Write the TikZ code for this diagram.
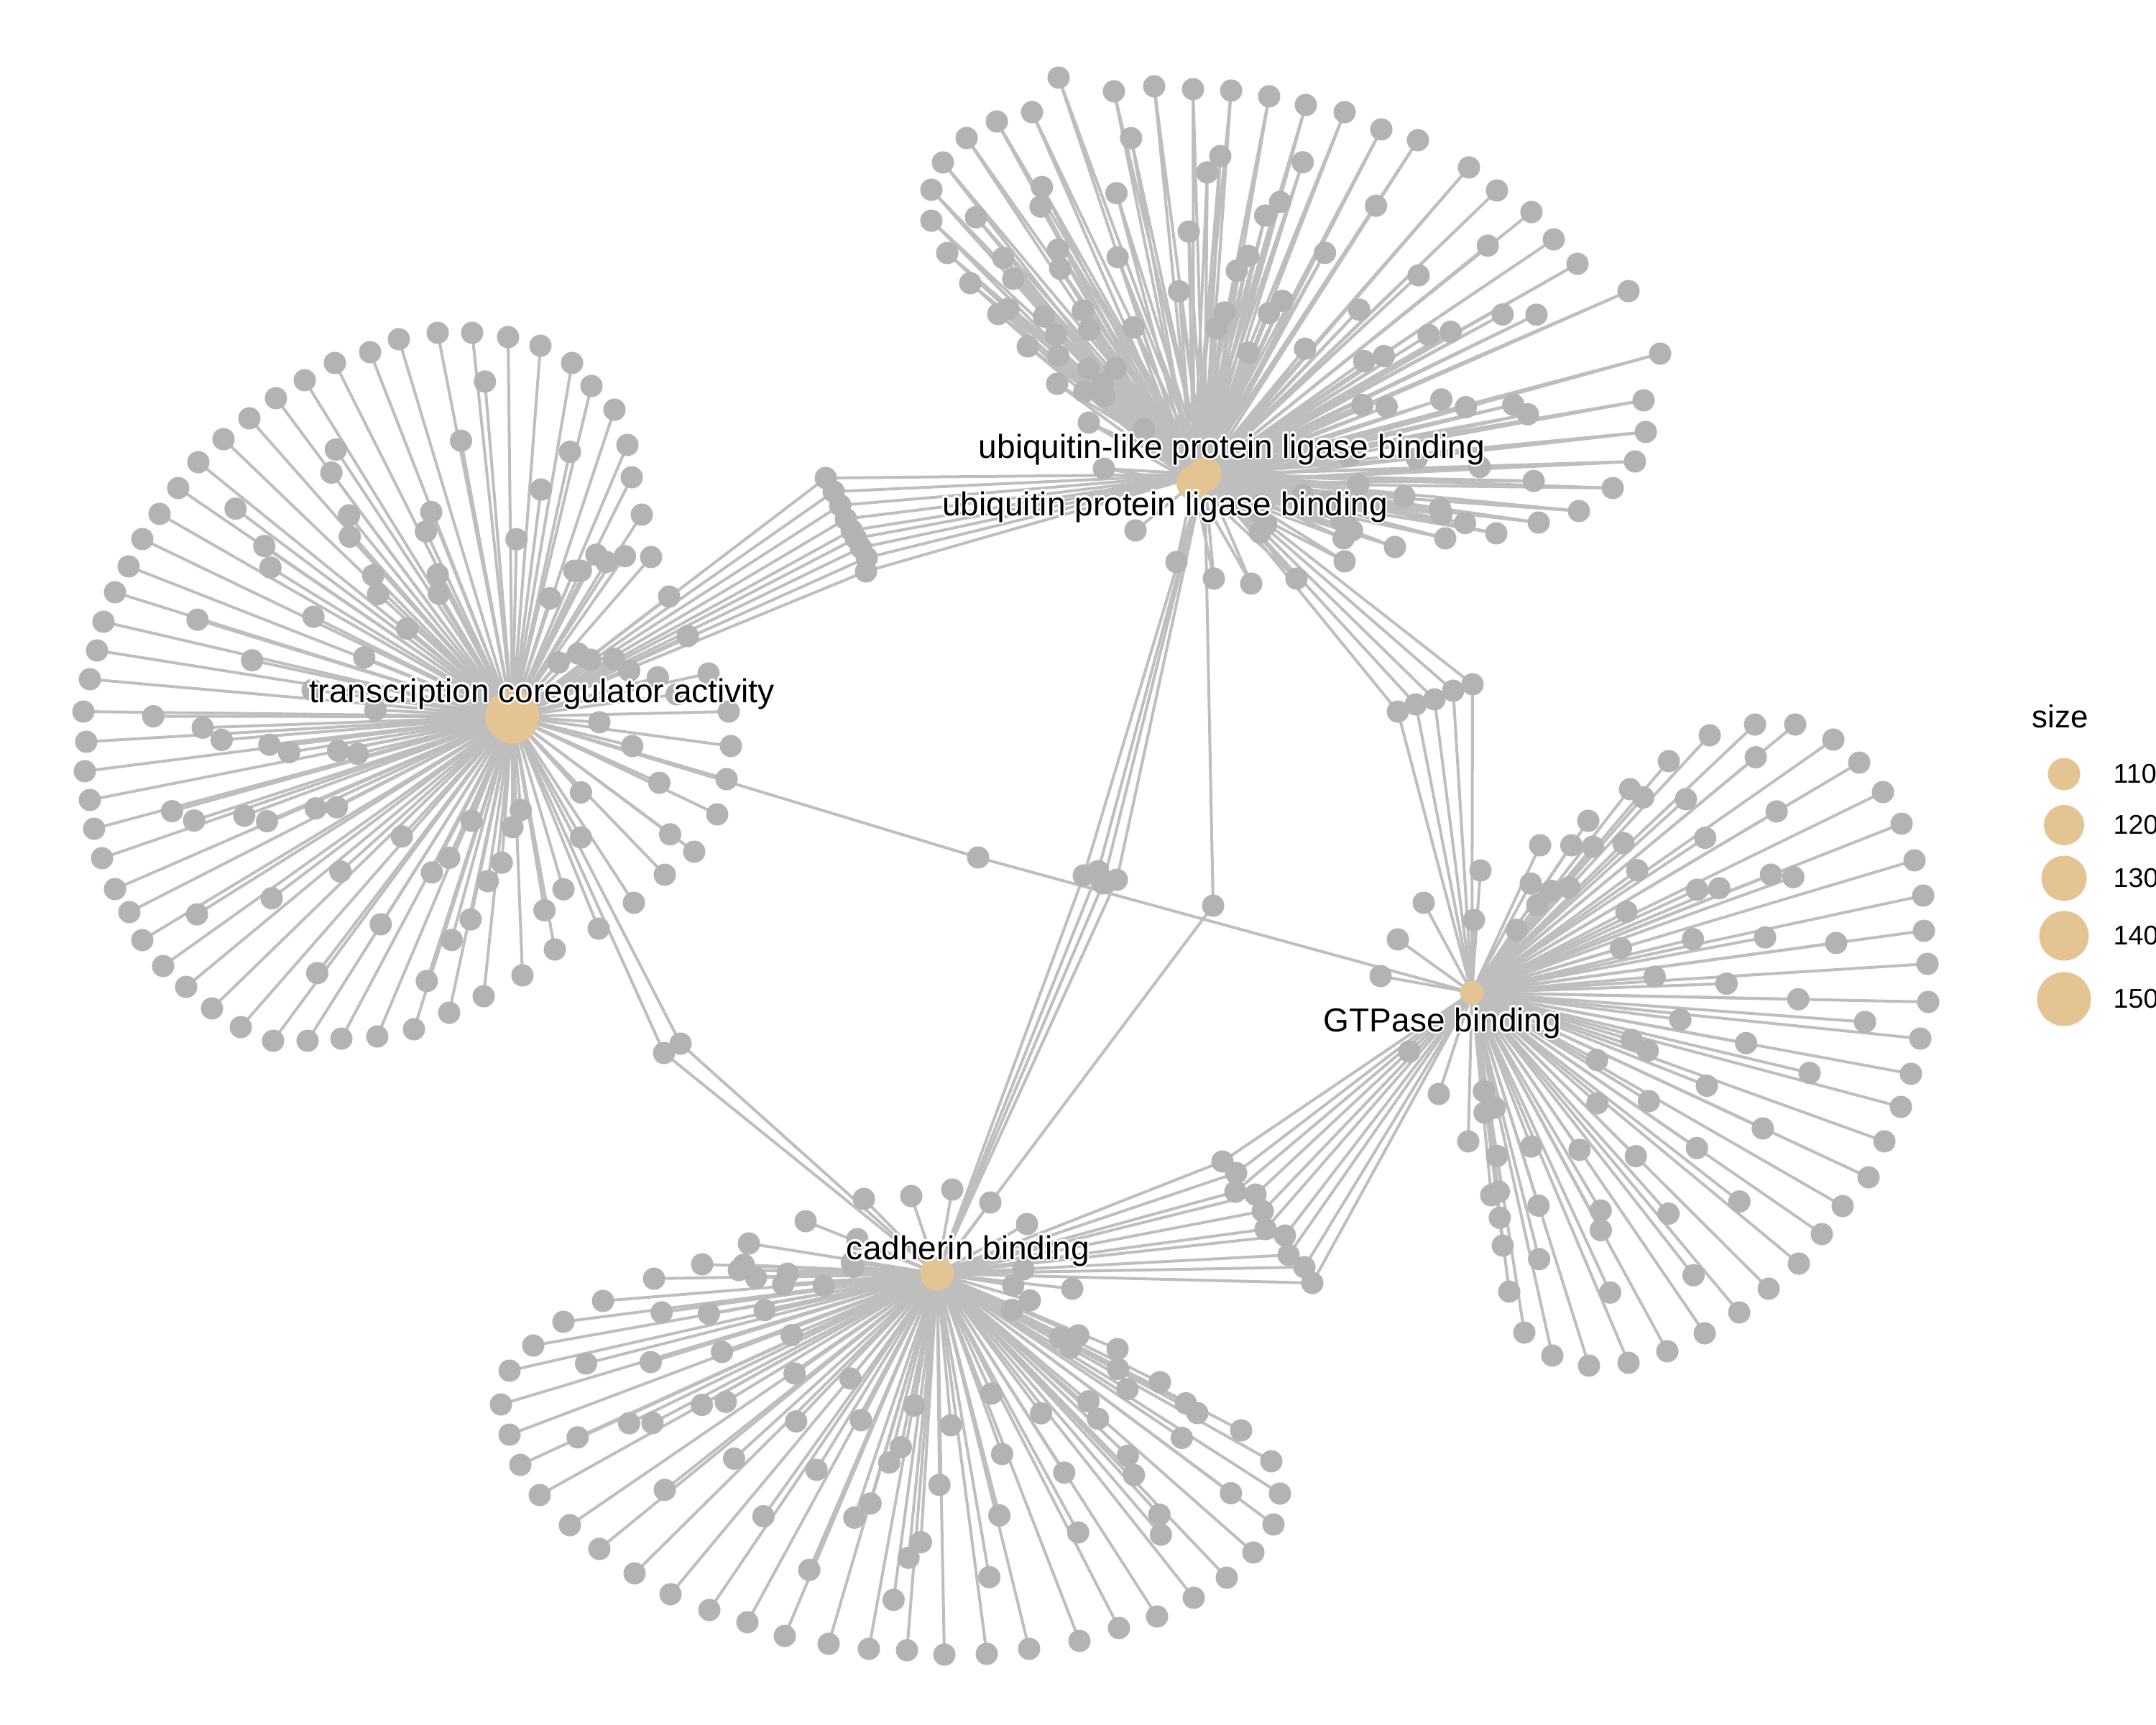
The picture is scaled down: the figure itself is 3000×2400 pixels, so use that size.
\documentclass[tikz,border=0pt]{standalone}
\usepackage{fontspec}
\setmainfont{Liberation Sans}
\usepackage{contour}
\contourlength{0.7pt}
\contournumber{24}
\usetikzlibrary{calc}
\definecolor{genec}{HTML}{B3B3B3}
\definecolor{edgec}{HTML}{BEBEBE}
\definecolor{hubc}{HTML}{E5C494}
\pgfdeclarelayer{edgelayer}
\pgfsetlayers{edgelayer,main}
\newcommand{\mkinner}[6]{%
  \foreach \idx in {1,...,#5}{%
    \pgfmathsetmacro{\myU}{frac(\idx*0.7548777+#6)}%
    \pgfmathsetmacro{\myS}{#3+\myU*(#4-#3)}%
    \pgfmathtruncatemacro{\myK}{floor(\myS)}%
    \pgfmathtruncatemacro{\myKn}{\myK+1}%
    \pgfmathsetmacro{\myT}{\myS-\myK}%
    \pgfmathsetmacro{\myF}{0.32+0.56*frac(\idx*0.5698403+#6*1.7)}%
    \coordinate (tmp) at ($(#1O\myK)!\myT!(#1O\myKn)$);%
    \node[gene] (#1I\idx) at ($(#2)!\myF!(tmp)$) {};%
  }%
}
\begin{document}
\begin{tikzpicture}[x=0.01cm,y=-0.01cm,
  gene/.style={circle,fill=genec,inner sep=0pt,minimum size=0.31cm},
  hub/.style={circle,fill=hubc,inner sep=0pt},
  edge/.style={draw=edgec,line width=0.04cm},
  lbl/.style={font=\fontsize{13.1}{15}\selectfont,anchor=base,inner sep=0pt},
  legt/.style={font=\fontsize{10.7}{12}\selectfont,anchor=west,inner sep=0pt}]
\useasboundingbox (0,0) rectangle (3000,2400);
% hub coordinates
\coordinate (tc) at (713,997);
\coordinate (ub) at (1676,660);
\coordinate (ub2) at (1661,672);
\coordinate (gt) at (2048,1381);
\coordinate (cd) at (1304,1772);
% ---- transcription coregulator activity ring
\foreach \x/\y [count=\i] in {609/463,657/463,707/469,752/481,796/505,823/537,855/570,873/619,879/664,893/716,906/775,931/830,957/885,986/937,1014/990,1017/1038,1011/1084,998/1133,966/1185,925/1217,882/1256,833/1292,772/1321,727/1357,673/1386,625/1409,576/1432,525/1442,475/1445,428/1448,380/1448,335/1429,295/1403,259/1373,227/1344,198/1308,180/1269,160/1237,142/1194,131/1153,125/1113,118/1073,120/1032,116/990,125/945,135/905,144/865,160/824,179/788,198/750,222/715,248/679,276/643,311/611,347/582,384/554,424/529,466/505,515/490,555/472}
  \node[gene] (tcO\i) at (\x,\y) {};
\mkinner{tc}{tc}{1}{60}{75}{0.11}
% ---- ubiquitin ring
\foreach \x/\y [count=\i] in {1515/588,1471/534,1430/482,1389/437,1350/394,1318/352,1296/307,1296/264,1312/226,1345/192,1387/169,1436/156,1473/108,1550/127,1606/120,1660/124,1713/126,1766/134,1817/146,1871/156,1922/180,1973/195,2044/233,2083/265,2131/295,2162/333,2195/367,2266/405,2310/492,2287/557,2290/601,2275/642,2244/679,2197/711,2141/727,2082/742,2011/749,1941/761,1871/781,1804/805,1741/812,1689/805,1637/782,1580/738,1536/652}
  \node[gene] (ubO\i) at (\x,\y) {};
\mkinner{ub}{ub}{2}{40}{75}{0.37}
% ---- GTPase ring
\foreach \x/\y [count=\i] in {2143/1176,2210/1142,2268/1098,2322/1059,2379/1023,2442/1008,2498/1008,2551/1029,2587/1061,2620/1102,2646/1146,2664/1197,2676/1246,2677/1295,2682/1341,2683/1394,2672/1445,2659/1494,2645/1540,2622/1588,2600/1638,2564/1678,2535/1717,2503/1758,2461/1793,2420/1826,2372/1855,2320/1880,2266/1896,2211/1900,2160/1886,2121/1854,2100/1797,2091/1733,2075/1663}
  \node[gene] (gtO\i) at (\x,\y) {};
\mkinner{gt}{gt}{1}{35}{55}{0.53}
\foreach \x/\y [count=\i] in {2060/1211,1981/1256,2051/1280,1945/1307,1921/1358,1961/1463,2002/1522,2043/1588}
  \node[gene] (gtX\i) at (\x,\y) {};
% ---- cadherin ring
\foreach \x/\y [count=\i] in {1492/1793,1555/1877,1614/1923,1666/1966,1727/1990,1769/2033,1781/2078,1772/2121,1744/2160,1707/2195,1661/2223,1610/2249,1557/2265,1502/2283,1432/2294,1373/2301,1314/2302,1262/2296,1209/2294,1153/2287,1092/2276,1040/2257,987/2240,933/2218,883/2189,834/2155,793/2122,751/2080,724/2038,709/1996,697/1954,709/1907,742/1872,784/1839,839/1810,910/1779,977/1759,1042/1730}
  \node[gene] (cdO\i) at (\x,\y) {};
\mkinner{cd}{cd}{1}{38}{62}{0.71}
\foreach \x/\y [count=\i] in {1121/1699,1202/1668,1268/1664,1325/1655,1378/1673,1429/1703,1424/1766,1193/1724,1096/1772}
  \node[gene] (cdX\i) at (\x,\y) {};
% ---- shared genes
\foreach \x/\y [count=\i] in {1149/665,1160/684,1169/703,1177/722,1185/738,1191/749,1198/762,1206/776,1205/795}
  \node[gene] (tu\i) at (\x,\y) {};
\node[gene] (tg1) at (1361,1193) {};
\foreach \x/\y [count=\i] in {947/1452,924/1465}
  \node[gene] (tcd\i) at (\x,\y) {};
\foreach \x/\y [count=\i] in {1508/1218,1528/1212,1535/1229,1554/1224,1688/1260}
  \node[gene] (uc\i) at (\x,\y) {};
\foreach \x/\y [count=\i] in {1945/990,1970/980,1996/973,2022/961,2049/952}
  \node[gene] (ug\i) at (\x,\y) {};
\foreach \x/\y [count=\i] in {1701/1616,1720/1632,1719/1658,1747/1662,1757/1685,1761/1710,1788/1719,1793/1746,1815/1763,1826/1785}
  \node[gene] (cg\i) at (\x,\y) {};
% ---- edges
\begin{pgfonlayer}{edgelayer}
\foreach \i in {1,...,60} \draw[edge] (tc) -- (tcO\i.center);
\foreach \i in {1,...,75} \draw[edge] (tc) -- (tcI\i.center);
\foreach \i in {1,...,45} \draw[edge] (ub) -- (ubO\i.center) -- (ub2);
\foreach \i in {1,...,75} \draw[edge] (ub) -- (ubI\i.center) -- (ub2);
\foreach \i in {1,...,35} \draw[edge] (gt) -- (gtO\i.center);
\foreach \i in {1,...,55} \draw[edge] (gt) -- (gtI\i.center);
\foreach \i in {1,...,8} \draw[edge] (gt) -- (gtX\i.center);
\foreach \i in {1,...,38} \draw[edge] (cd) -- (cdO\i.center);
\foreach \i in {1,...,62} \draw[edge] (cd) -- (cdI\i.center);
\foreach \i in {1,...,9} \draw[edge] (cd) -- (cdX\i.center);
\foreach \i in {1,...,9} \draw[edge] (tc) -- (tu\i.center) -- (ub);
\draw[edge] (tc) -- (tg1.center) -- (gt);
\foreach \i in {1,2} \draw[edge] (tc) -- (tcd\i.center) -- (cd);
\foreach \i in {1,...,5} \draw[edge] (ub) -- (uc\i.center) -- (cd);
\foreach \i in {1,...,5} \draw[edge] (ub) -- (ug\i.center) -- (gt);
\foreach \i in {1,...,10} \draw[edge] (cd) -- (cg\i.center) -- (gt);
\end{pgfonlayer}
% ---- hubs
\node[hub,minimum size=0.75cm] (tcH) at (tc) {};
\node[hub,minimum size=0.48cm] (ubA) at (ub) {};
\node[hub,minimum size=0.48cm] (ubB) at (ub2) {};
\node[hub,minimum size=0.33cm] (gtH) at (gt) {};
\node[hub,minimum size=0.47cm] (cdH) at (cd) {};
% ---- labels
\node[lbl] (lTC) at (754,977) {\contour{white}{transcription coregulator activity}};
\node[lbl] (lUL) at (1714,637) {\contour{white}{ubiquitin-like protein ligase binding}};
\node[lbl] (lUB) at (1621,717) {\contour{white}{ubiquitin protein ligase binding}};
\node[lbl] (lGT) at (2007,1435) {\contour{white}{GTPase binding}};
\node[lbl] (lCD) at (1347,1752) {\contour{white}{cadherin binding}};
% ---- legend
\node[font=\fontsize{12.5}{14}\selectfont,anchor=base west,inner sep=0pt] (legT) at (2827,1012) {size};
\foreach \y/\d/\v [count=\i] in {1077/0.45/110,1148/0.56/120,1222/0.63/130,1302/0.69/140,1390/0.75/150}{
  \node[hub,minimum size=\d cm] (legC\i) at (2872,\y) {};
  \node[legt] (legL\i) at (2940,\y) {\v};
}
\end{tikzpicture}
\end{document}
